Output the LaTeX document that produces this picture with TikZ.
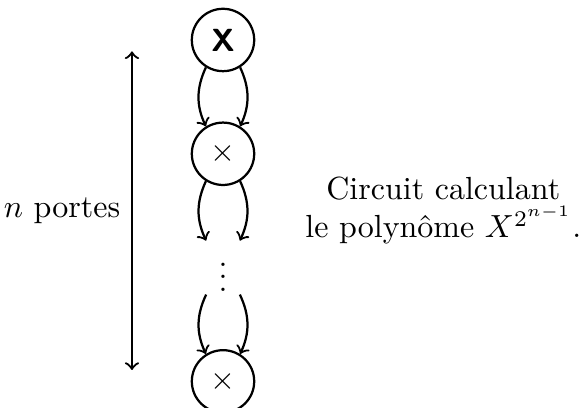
\documentclass[tikz,border=0pt]{standalone}
\begin{document}
\begin{tikzpicture}[
  gate/.style={circle, draw, line width=0.7pt, minimum size=19.5pt, inner sep=0pt},
  ghost/.style={circle, minimum size=19.5pt, inner sep=0pt},
  flow/.style={->, line width=0.7pt},
  span/.style={<->, line width=0.7pt},
]
\useasboundingbox (-69.7pt,12.5pt) rectangle (112.2pt,-115pt);
\node[gate] (g1) at (0,0) {\textsf{\textbf{X}}};
\node[gate] (g2) at (0,-1.25) {$\times$};
\node[ghost] (g3) at (0,-2.5) {$\vdots$};
\node[gate] (g4) at (0,-3.75) {$\times$};
\foreach \a/\b in {g1/g2, g2/g3, g3/g4} {
  \draw[flow] (\a.-122) to[bend right=25] (\b.122);
  \draw[flow] (\a.-58) to[bend left=25] (\b.58);
}
\coordinate (ptop) at (-1,-0.125);
\coordinate (pbot) at (-1,-3.625);
\draw[span] (ptop) -- (pbot) node[midway, left] (lbl) {$n$ portes};
\node[align=center] (cap) at (2.42,-1.875) {Circuit calculant\\ le polynôme $X^{2^{n-1}}$.};
\end{tikzpicture}
\end{document}
